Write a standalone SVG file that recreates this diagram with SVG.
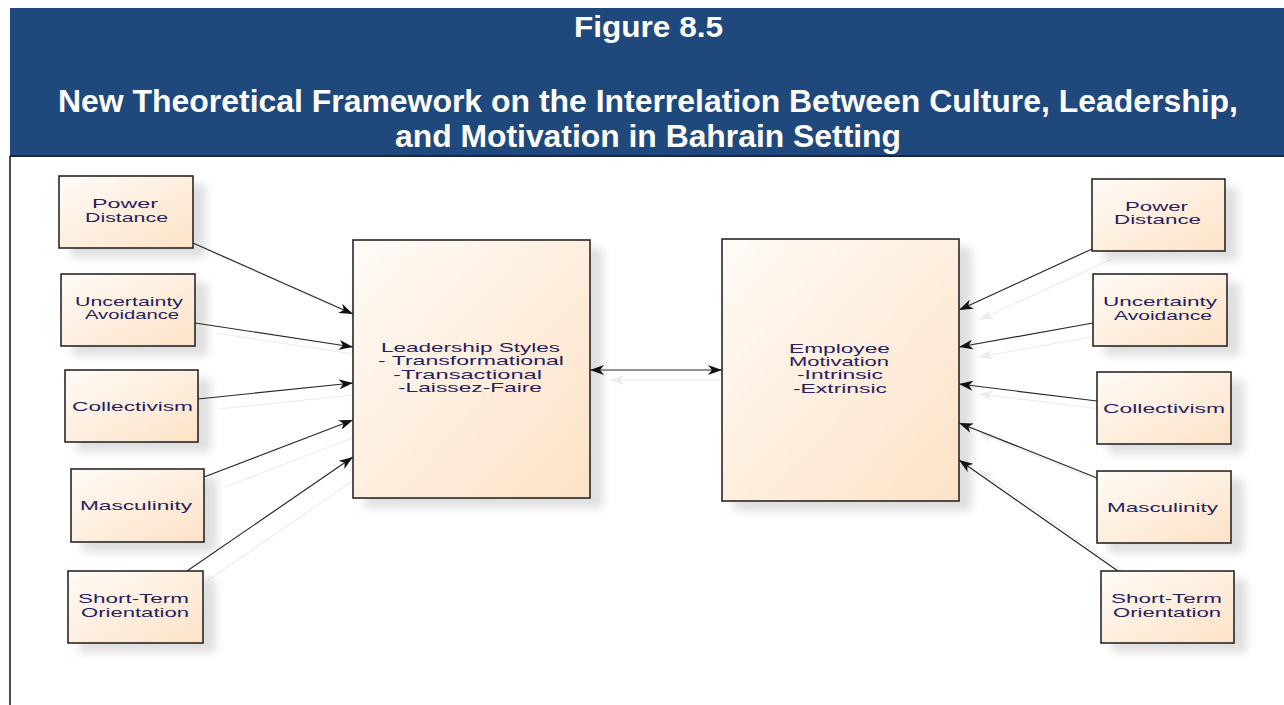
<svg xmlns="http://www.w3.org/2000/svg" width="1284" height="705" viewBox="0 0 1284 705">
<defs>
<linearGradient id="peach" x1="0" y1="0" x2="1" y2="1">
<stop offset="0" stop-color="#fffbf7"/>
<stop offset="1" stop-color="#fde2c6"/>
</linearGradient>
<filter id="shadow" x="-20%" y="-20%" width="160%" height="160%">
<feGaussianBlur in="SourceAlpha" stdDeviation="5"/>
<feOffset dx="12" dy="9" result="b"/>
<feComponentTransfer><feFuncA type="linear" slope="0.13"/></feComponentTransfer>
<feMerge><feMergeNode/><feMergeNode in="SourceGraphic"/></feMerge>
</filter>
<marker id="arr" viewBox="0 0 14 10" refX="14" refY="5" markerWidth="14" markerHeight="10" markerUnits="userSpaceOnUse" orient="auto-start-reverse">
<path d="M0,0 L14,5 L0,10 L4,5 Z" fill="#111"/>
</marker>
<marker id="arrS" viewBox="0 0 14 10" refX="14" refY="5" markerWidth="14" markerHeight="10" markerUnits="userSpaceOnUse" orient="auto-start-reverse">
<path d="M0,0 L14,5 L0,10 L4,5 Z" fill="#ececec"/>
</marker>
</defs>
<style>
.box{fill:url(#peach);stroke:#1a1a1a;stroke-width:1.5;filter:url(#shadow)}
.lbl{font-family:"Liberation Sans",Arial,sans-serif;font-size:13px;fill:#271f5e;text-anchor:middle}
.ttl{font-family:"Liberation Sans",Arial,sans-serif;font-weight:bold;fill:#ffffff;text-anchor:middle}
.con{stroke:#2a2a2a;stroke-width:1.2;fill:none;marker-end:url(#arr)}
.sh{stroke:#ececec;stroke-width:1.2;fill:none;marker-end:url(#arrS)}
</style>
<rect x="0" y="0" width="1284" height="705" fill="#ffffff"/>
<g id="header">
<rect x="10" y="8" width="1274" height="148" fill="#1f497d"/>
<line x1="10" y1="156" x2="1284" y2="156" stroke="#1b2636" stroke-width="2"/>
<line x1="10" y1="156" x2="10" y2="705" stroke="#111" stroke-width="1.5"/>
<text class="ttl" x="648.5" y="37" font-size="30" textLength="149" lengthAdjust="spacingAndGlyphs">Figure 8.5</text>
<text class="ttl" x="648" y="112" font-size="31" textLength="1180" lengthAdjust="spacingAndGlyphs">New Theoretical Framework on the Interrelation Between Culture, Leadership,</text>
<text class="ttl" x="648" y="147" font-size="31" textLength="506" lengthAdjust="spacingAndGlyphs">and Motivation in Bahrain Setting</text>
</g>
<g id="connector-shadows">
<line class="sh" x1="213" y1="253" x2="373" y2="324"/>
<line class="sh" x1="216" y1="333" x2="373" y2="357"/>
<line class="sh" x1="219" y1="409" x2="373" y2="393"/>
<line class="sh" x1="225" y1="487" x2="373" y2="430"/>
<line class="sh" x1="207" y1="581" x2="373" y2="467"/>
<line class="sh" x1="1112" y1="259" x2="979" y2="320"/>
<line class="sh" x1="1113" y1="333" x2="979" y2="357"/>
<line class="sh" x1="1117" y1="411" x2="979" y2="394"/>
<line class="sh" x1="1117" y1="488" x2="979" y2="433"/>
<line class="sh" x1="1138" y1="581" x2="979" y2="470"/>
<line class="sh" x1="610" y1="380" x2="742" y2="380" style="marker-start:url(#arrS)"/>
</g>
<g id="n-pd-left"><rect class="box" x="59" y="176" width="134" height="72"/>
<text class="lbl" x="125" y="208" textLength="66" lengthAdjust="spacingAndGlyphs">Power</text>
<text class="lbl" x="126.5" y="222" textLength="83" lengthAdjust="spacingAndGlyphs">Distance</text></g>
<g id="n-ua-left"><rect class="box" x="61" y="274" width="134" height="72"/>
<text class="lbl" x="129" y="306" textLength="108" lengthAdjust="spacingAndGlyphs">Uncertainty</text>
<text class="lbl" x="132" y="319" textLength="94" lengthAdjust="spacingAndGlyphs">Avoidance</text></g>
<g id="n-coll-left"><rect class="box" x="65" y="370" width="133" height="72"/>
<text class="lbl" x="132.5" y="411" textLength="121" lengthAdjust="spacingAndGlyphs">Collectivism</text></g>
<g id="n-masc-left"><rect class="box" x="71" y="469" width="133" height="73"/>
<text class="lbl" x="136" y="510" textLength="112" lengthAdjust="spacingAndGlyphs">Masculinity</text></g>
<g id="n-sto-left"><rect class="box" x="68" y="571" width="135" height="72"/>
<text class="lbl" x="133.5" y="603" textLength="111" lengthAdjust="spacingAndGlyphs">Short-Term</text>
<text class="lbl" x="135" y="617" textLength="108" lengthAdjust="spacingAndGlyphs">Orientation</text></g>
<g id="n-leadership"><rect class="box" x="353" y="240" width="237" height="258"/>
<text class="lbl" x="470.5" y="352" textLength="179" lengthAdjust="spacingAndGlyphs">Leadership Styles</text>
<text class="lbl" x="471" y="365" textLength="186" lengthAdjust="spacingAndGlyphs">- Transformational</text>
<text class="lbl" x="467.5" y="379" textLength="149" lengthAdjust="spacingAndGlyphs">-Transactional</text>
<text class="lbl" x="470" y="392" textLength="144" lengthAdjust="spacingAndGlyphs">-Laissez-Faire</text></g>
<g id="n-motivation"><rect class="box" x="722" y="239" width="237" height="262"/>
<text class="lbl" x="839.5" y="353" textLength="101" lengthAdjust="spacingAndGlyphs">Employee</text>
<text class="lbl" x="839" y="366" textLength="100" lengthAdjust="spacingAndGlyphs">Motivation</text>
<text class="lbl" x="840" y="379" textLength="86" lengthAdjust="spacingAndGlyphs">-Intrinsic</text>
<text class="lbl" x="840" y="393" textLength="94" lengthAdjust="spacingAndGlyphs">-Extrinsic</text></g>
<g id="n-pd-right"><rect class="box" x="1092" y="179" width="133" height="72"/>
<text class="lbl" x="1156.5" y="211" textLength="63" lengthAdjust="spacingAndGlyphs">Power</text>
<text class="lbl" x="1157.5" y="224" textLength="87" lengthAdjust="spacingAndGlyphs">Distance</text></g>
<g id="n-ua-right"><rect class="box" x="1093" y="274" width="134" height="72"/>
<text class="lbl" x="1160" y="306" textLength="114" lengthAdjust="spacingAndGlyphs">Uncertainty</text>
<text class="lbl" x="1163" y="320" textLength="98" lengthAdjust="spacingAndGlyphs">Avoidance</text></g>
<g id="n-coll-right"><rect class="box" x="1097" y="372" width="134" height="72"/>
<text class="lbl" x="1164" y="413" textLength="122" lengthAdjust="spacingAndGlyphs">Collectivism</text></g>
<g id="n-masc-right"><rect class="box" x="1097" y="471" width="134" height="72"/>
<text class="lbl" x="1162.5" y="512" textLength="111" lengthAdjust="spacingAndGlyphs">Masculinity</text></g>
<g id="n-sto-right"><rect class="box" x="1101" y="571" width="133" height="72"/>
<text class="lbl" x="1166.5" y="603" textLength="111" lengthAdjust="spacingAndGlyphs">Short-Term</text>
<text class="lbl" x="1167" y="617" textLength="108" lengthAdjust="spacingAndGlyphs">Orientation</text></g>
<g id="connectors">
<line class="con" x1="193" y1="243" x2="353" y2="314"/>
<line class="con" x1="195" y1="323" x2="353" y2="347"/>
<line class="con" x1="198" y1="399" x2="353" y2="383"/>
<line class="con" x1="204" y1="477" x2="353" y2="420"/>
<line class="con" x1="187" y1="571" x2="353" y2="457"/>
<line class="con" x1="1092" y1="249" x2="959" y2="310"/>
<line class="con" x1="1093" y1="323" x2="959" y2="347"/>
<line class="con" x1="1097" y1="401" x2="959" y2="384"/>
<line class="con" x1="1097" y1="478" x2="959" y2="423"/>
<line class="con" x1="1118" y1="571" x2="959" y2="460"/>
<line class="con" x1="590" y1="370" x2="722" y2="370" style="marker-start:url(#arr)"/>
</g>
</svg>
